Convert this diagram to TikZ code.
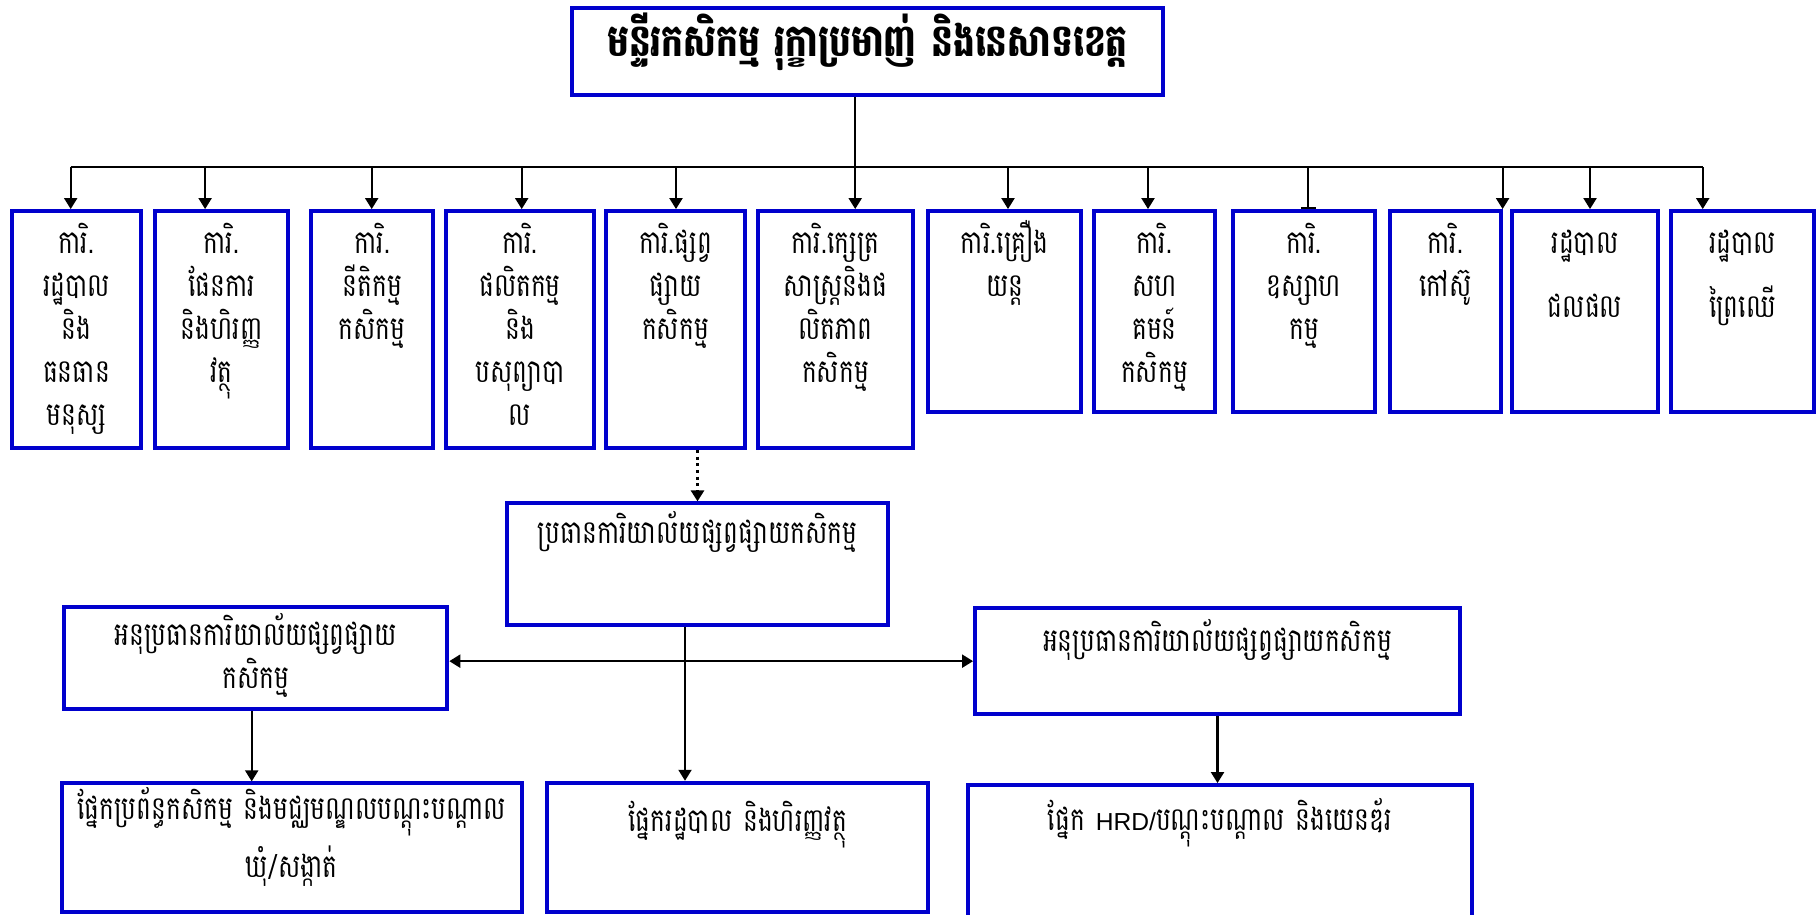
\documentclass[tikz,border=0pt]{standalone}
\usepackage{fontspec}
\newfontfamily\khmer[Script=Khmer, FakeStretch=0.77]{Battambang}
\newfontfamily\latin{Liberation Sans}
\usetikzlibrary{arrows.meta}
\definecolor{boxblue}{RGB}{0,0,205}
\tikzset{
  unit/.style={draw=boxblue, line width=1.1pt, inner sep=0pt},
  txt/.style={anchor=base, align=center, inner sep=0pt, text width=3cm, font=\khmer\fontsize{9.2}{12.2}\selectfont},
  wtxt/.style={txt, text width=6cm},
}
\begin{document}
\begin{tikzpicture}[>={Triangle[width=1.3mm,length=1.1mm]}, line width=0.6pt]
\useasboundingbox (0,0) rectangle (18.17,9.14);
\clip (0,0) rectangle (18.17,9.14);
%\draw[step=0.5cm,gray,very thin] (0,0) grid (18.17,9.14); %background grid
% department
\node[unit, minimum width=5.91cm, minimum height=0.87cm] (top) at (8.675,8.625) {};
\node[wtxt, text width=8cm, font=\khmer\bfseries\fontsize{12.7}{16}\selectfont] (ttop) at ([yshift=-5mm]top.north) {មន្ទីរកសិកម្ម រុក្ខាប្រមាញ់ និងនេសាទខេត្ត};
% offices
\node[unit, minimum width=1.298cm, minimum height=2.37cm] (u1) at (0.765,5.845) {};
\node[unit, minimum width=1.324cm, minimum height=2.37cm] (u2) at (2.215,5.845) {};
\node[unit, minimum width=1.224cm, minimum height=2.37cm] (u3) at (3.722,5.845) {};
\node[unit, minimum width=1.48cm, minimum height=2.37cm] (u4) at (5.20,5.845) {};
\node[unit, minimum width=1.39cm, minimum height=2.37cm] (u5) at (6.755,5.845) {};
\node[unit, minimum width=1.55cm, minimum height=2.37cm] (u6) at (8.355,5.845) {};
\node[unit, minimum width=1.527cm, minimum height=2.01cm] (u7) at (10.047,6.025) {};
\node[unit, minimum width=1.21cm, minimum height=2.01cm] (u8) at (11.545,6.025) {};
\node[unit, minimum width=1.42cm, minimum height=2.01cm] (u9) at (13.04,6.025) {};
\node[unit, minimum width=1.107cm, minimum height=2.01cm] (u10) at (14.453,6.025) {};
\node[unit, minimum width=1.466cm, minimum height=2.01cm] (u11) at (15.85,6.025) {};
\node[unit, minimum width=1.433cm, minimum height=2.01cm] (u12) at (17.424,6.025) {};
\node[txt] (t1) at ([yshift=-4.45mm]u1.north) {ការិ.\\រដ្ឋបាល\\និង\\ធនធាន\\មនុស្ស};
\node[txt] (t2) at ([yshift=-4.45mm]u2.north) {ការិ.\\ផែនការ\\និងហិរញ្ញ\\វត្ថុ};
\node[txt] (t3) at ([yshift=-4.45mm]u3.north) {ការិ.\\នីតិកម្ម\\កសិកម្ម};
\node[txt] (t4) at ([yshift=-4.45mm]u4.north) {ការិ.\\ផលិតកម្ម\\និង\\បសុព្យាបា\\ល};
\node[txt] (t5) at ([yshift=-4.45mm]u5.north) {ការិ.ផ្សព្វ\\ផ្សាយ\\កសិកម្ម};
\node[txt] (t6) at ([yshift=-4.45mm]u6.north) {ការិ.ក្សេត្រ\\សាស្ត្រនិងផ\\លិតភាព\\កសិកម្ម};
\node[txt] (t7) at ([yshift=-4.45mm]u7.north) {ការិ.គ្រឿង\\យន្ត};
\node[txt] (t8) at ([yshift=-4.45mm]u8.north) {ការិ.\\សហ\\គមន៍\\កសិកម្ម};
\node[txt] (t9) at ([yshift=-4.45mm]u9.north) {ការិ.\\ឧស្សាហ\\កម្ម};
\node[txt] (t10) at ([yshift=-4.45mm]u10.north) {ការិ.\\កៅស៊ូ};
\node[txt] (t11) at ([yshift=-4.45mm]u11.north) {រដ្ឋបាល\\[2.1mm]ជលផល};
\node[txt] (t12) at ([yshift=-4.45mm]u12.north) {រដ្ឋបាល\\[2.1mm]ព្រៃឈើ};
% extension office
\node[unit, minimum width=3.816cm, minimum height=1.217cm] (head) at (6.975,3.4985) {};
\node[unit, minimum width=3.833cm, minimum height=1.023cm] (dl) at (2.557,2.5615) {};
\node[unit, minimum width=4.85cm, minimum height=1.057cm] (dr) at (12.175,2.5285) {};
\node[unit, minimum width=4.60cm, minimum height=1.284cm] (bl) at (2.917,0.665) {};
\node[unit, minimum width=3.81cm, minimum height=1.29cm] (bm) at (7.378,0.668) {};
\node[unit, minimum width=5.034cm, minimum height=1.35cm] (br) at (12.2,0.615) {};
\node[wtxt] (thead) at ([yshift=-4.2mm]head.north) {ប្រធានការិយាល័យផ្សព្វផ្សាយកសិកម្ម};
\node[wtxt] (tdl) at ([yshift=-4.1mm]dl.north) {អនុប្រធានការិយាល័យផ្សព្វផ្សាយ\\កសិកម្ម};
\node[wtxt] (tdr) at ([yshift=-4.5mm]dr.north) {អនុប្រធានការិយាល័យផ្សព្វផ្សាយកសិកម្ម};
\node[wtxt] (tbl) at ([yshift=-3.8mm]bl.north) {ផ្នែកប្រព័ន្ធកសិកម្ម និងមជ្ឈមណ្ឌលបណ្ដុះបណ្ដាល\\[0.6mm]ឃុំ/សង្កាត់};
\node[wtxt] (tbm) at ([yshift=-5.1mm]bm.north) {ផ្នែករដ្ឋបាល និងហិរញ្ញវត្ថុ};
\node[wtxt] (tbr) at ([yshift=-4.7mm]br.north) {ផ្នែក {\latin\fontsize{7}{9}\selectfont HRD/}បណ្ដុះបណ្ដាល និងយេនឌ័រ};
% lines
\coordinate (bus) at (0.707,7.47);
\coordinate (busend) at (17.027,7.47);
\draw ([xshift=-1.23mm]top.south) -- ([xshift=-1.23mm]top.south |- bus);
\draw (bus) -- (busend);
\foreach \n/\ax in {u1/0.707,u2/2.051,u3/3.717,u4/5.217,u5/6.76,u6/8.552,u7/10.08,u8/11.48,u11/15.9,u12/17.027}
  \draw[->] (bus -| \ax,0) -- (\ax,0 |- \n.north);
\draw[-{Bar[width=1.5mm]}] (bus -| 13.08,0) -- (13.08,0 |- u9.north);
\draw[->] (bus -| u10.north east) -- (u10.north east);
\draw[->, densely dotted, line width=0.9pt] (head.north |- u5.south) -- (head.north);
\draw[<->] (dr.west -| dl.east) -- (dr.west);
\draw[->] ([xshift=-1.25mm]head.south) -- ([xshift=-1.25mm]head.south |- bm.north);
\draw[->] ([xshift=-0.4mm]dl.south) -- ([xshift=-0.4mm]dl.south |- bl.north);
\draw[->] (dr.south) -- (dr.south |- br.north);
\end{tikzpicture}
\end{document}
